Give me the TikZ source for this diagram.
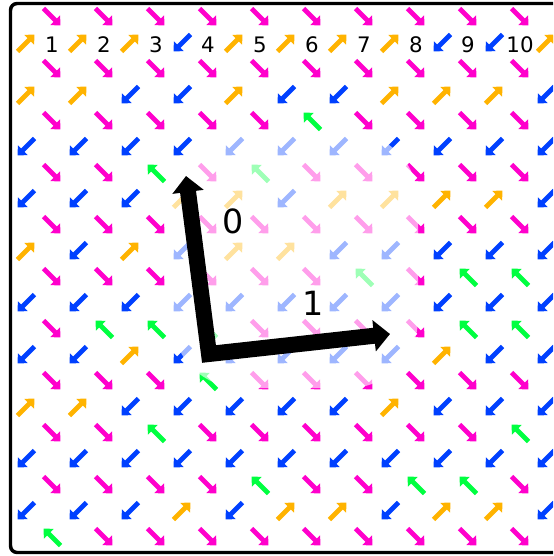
\documentclass[tikz,border=0pt]{standalone}
\usepackage{fontspec}
\setmainfont{DejaVu Sans}
\usetikzlibrary{arrows.meta}
\definecolor{cmag}{RGB}{255,0,204}
\definecolor{corg}{RGB}{255,179,0}
\definecolor{cblu}{RGB}{0,64,255}
\definecolor{cgrn}{RGB}{0,255,64}
\tikzset{
  sa/.style={line width=3.5pt,-{Triangle[length=5.6pt,width=10pt]}},
  numfont/.style={font=\fontsize{16}{19}\selectfont, inner sep=0pt},
  axfont/.style={font=\fontsize{25}{29}\selectfont, inner sep=0pt},
  bigarrow/.style={line width=12pt, line join=miter,
    {Triangle[length=12pt,width=23pt]}-{Triangle[length=12pt,width=23pt]}},
  fadebox/.style={fill=white, fill opacity=0.62, rounded corners=52pt},
  frame/.style={line width=2.6pt, rounded corners=5pt}
}
\newcommand\sarr[3]{\ifcase#3\or
  \draw[sa,cmag] (#1-8.5,#2-8.5) -- (#1+8.5,#2+8.5);\or
  \draw[sa,corg] (#1-8.5,#2+8.5) -- (#1+8.5,#2-8.5);\or
  \draw[sa,cblu] (#1+8.5,#2-8.5) -- (#1-8.5,#2+8.5);\or
  \draw[sa,cgrn] (#1+8.5,#2+8.5) -- (#1-8.5,#2-8.5);\fi}
\newcommand\arow[3]{\foreach \c [count=\i from 0] in {#3}{%
  \pgfmathsetmacro\xx{26*(#2+2*\i)}%
  \pgfmathsetmacro\yy{17+26*#1}%
  \sarr{\xx}{\yy}{\c}}}
\begin{document}
\begin{tikzpicture}[x=0.75pt,y=-0.75pt]
\useasboundingbox (0,0) rectangle (553,556);
\clip (0,0) rectangle (553,556);
\arow{0}{2}{1,1,1,1,1,1,1,1,1,1}
\arow{1}{1}{2,2,2,3,2,2,2,2,3,3,2}
\arow{2}{2}{1,1,1,1,1,1,1,1,1,1}
\arow{3}{1}{2,2,3,3,2,3,3,2,2,2,3}
\arow{4}{2}{1,1,1,1,1,4,1,1,1,1}
\arow{5}{1}{3,3,3,3,3,3,3,3,3,3,3}
\arow{6}{2}{1,1,4,1,4,1,1,1,1,1}
\arow{7}{1}{3,3,3,2,2,3,2,2,2,2,3}
\arow{8}{2}{1,1,1,1,1,1,1,1,1,1}
\arow{9}{1}{2,3,2,3,2,2,3,3,3,3,3}
\arow{10}{2}{1,1,1,1,1,1,4,1,4,4}
\arow{11}{1}{3,3,3,3,3,3,3,3,3,3,3}
\arow{12}{2}{1,4,4,4,1,1,1,1,4,4}
\arow{13}{1}{3,3,2,3,3,3,3,3,2,3,3}
\arow{14}{2}{1,1,1,4,1,1,1,1,1,1}
\arow{15}{1}{2,2,3,3,3,3,3,2,3,3,3}
\arow{16}{2}{1,1,4,1,1,1,1,1,1,4}
\arow{17}{1}{3,3,3,3,3,3,3,3,3,3,3}
\arow{18}{2}{1,1,1,1,4,1,1,4,4,1}
\arow{19}{1}{3,3,3,2,3,2,2,3,2,2,3}
\arow{20}{2}{4,1,1,1,1,1,1,1,1,1}
\foreach \m in {1,...,10} \node[numfont] (n\m) at (52*\m,45) {\m};
\fill[fadebox] (172,132) rectangle (418,388);
\coordinate (t0) at (186,176);
\coordinate (o) at (209,354);
\coordinate (t1) at (390,334);
\draw[bigarrow] (t0) -- (o) -- (t1);
\node[axfont] (l0) at (233,221) {0};
\node[axfont] (l1) at (313,303) {1};
\draw[frame] (10.5,3.5) rectangle (600,552.5);
\end{tikzpicture}
\end{document}
